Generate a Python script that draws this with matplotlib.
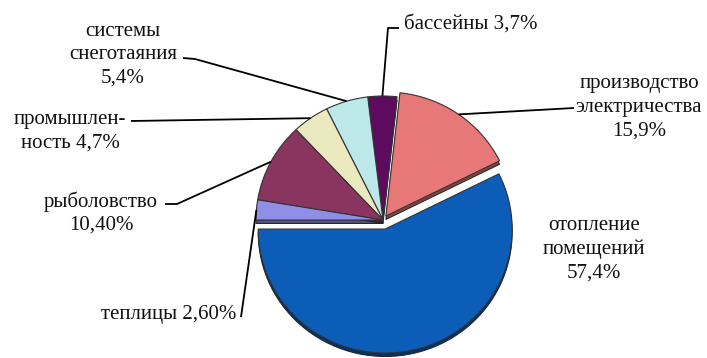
import matplotlib.pyplot as plt
import numpy as np
from matplotlib.colors import to_rgb

# shares of geothermal energy use, %
names = ["отопление помещений", "производство электричества", "бассейны",
         "системы снеготаяния", "промышленность", "рыболовство", "теплицы"]
shares = [57.4, 15.9, 3.7, 5.4, 4.7, 10.4, 2.6]
share_text = ["57,4%", "15,9%", "3,7%", "5,4%", "4,7%", "10,40%", "2,60%"]
colors = ["#0B5DB8", "#E87878", "#5E0A5E", "#BDE8EA", "#EAE8BE", "#8A3460", "#8F8FE8"]
explode = [9.5, 5, 0, 0, 0, 0, 0]   # offsets in pixels

W, H = 707, 358
TILT = 127 / 124          # slight vertical squash of the tilted pie
cx, cy_pix = 383, 220     # pie centre, pixels from top-left
R = 127
depth = 3.5               # height of the 3d rim

FONT = "Liberation Serif"
FS = 15

fig = plt.figure(figsize=(W / 100, H / 100), dpi=100)
ax = fig.add_axes([0, 0, 1, 1])


def Y(ypix):
    # pixel row (from the top) -> data y
    return (H - ypix) * TILT


def darker(c, k=0.55):
    r, g, b = to_rgb(c)
    return (r * k, g * k, b * k)


# rim (side walls) first, then the top faces
ax.pie(shares, colors=[darker(c) for c in colors], explode=explode,
       startangle=180, counterclock=True, radius=R,
       center=(cx, Y(cy_pix + depth)),
       frame=True, wedgeprops=dict(edgecolor="#222222", linewidth=0.7))
wedges, _ = ax.pie(shares, colors=colors, explode=explode,
                   startangle=180, counterclock=True, radius=R,
                   center=(cx, Y(cy_pix)),
                   frame=True, wedgeprops=dict(edgecolor="#333333", linewidth=0.8))


def edge_point(i, rfac=1.0):
    w = wedges[i]
    a = np.deg2rad((w.theta1 + w.theta2) / 2)
    x0, y0 = w.center
    return x0 + w.r * rfac * np.cos(a), y0 + w.r * rfac * np.sin(a)


def label(lines, x, ytop, step=23.5, ha="center"):
    for k, s in enumerate(lines):
        ax.text(x, Y(ytop + 3 + k * step), s, ha=ha, va="center",
                fontsize=FS, family=FONT, color="#111111")


def leader(pts):
    xs = [p[0] for p in pts]
    ys = [p[1] for p in pts]
    ax.plot(xs, ys, color="black", lw=1.3, solid_capstyle="butt")


# отопление помещений (no leader)
label(["отопление", "помещений", share_text[0]], 594, 223)

# производство электричества
label(["производство", "электричества", share_text[1]], 639, 81)
leader([(574, Y(108)), edge_point(1, 1.0)])

# бассейны
label(["бассейны " + share_text[2]], 404, 21, ha="left")
px, py = edge_point(2, 1.0)
leader([(399, Y(28)), (388, Y(28)), (px, py)])

# системы снеготаяния
label(["системы", "снеготаяния", share_text[3]], 123, 28)
leader([(183, Y(58)), (195, Y(59)), edge_point(3, 1.0)])

# промышленность
label(["промышлен-", "ность " + share_text[4]], 70, 117)
leader([(131, Y(121)), edge_point(4, 1.0)])

# рыболовство
label(["рыболовство", share_text[5]], 101, 199)
leader([(165, Y(204)), (177, Y(204)), edge_point(5, 1.0)])

# теплицы
label(["теплицы " + share_text[6]], 236, 311, ha="right")
leader([(241, Y(317)), edge_point(6, 1.0)])

ax.set_xlim(0, W)
ax.set_ylim(0, H * TILT)
ax.set_aspect("auto")
ax.axis("off")

fig.savefig("out.png", dpi=100, facecolor="white")
